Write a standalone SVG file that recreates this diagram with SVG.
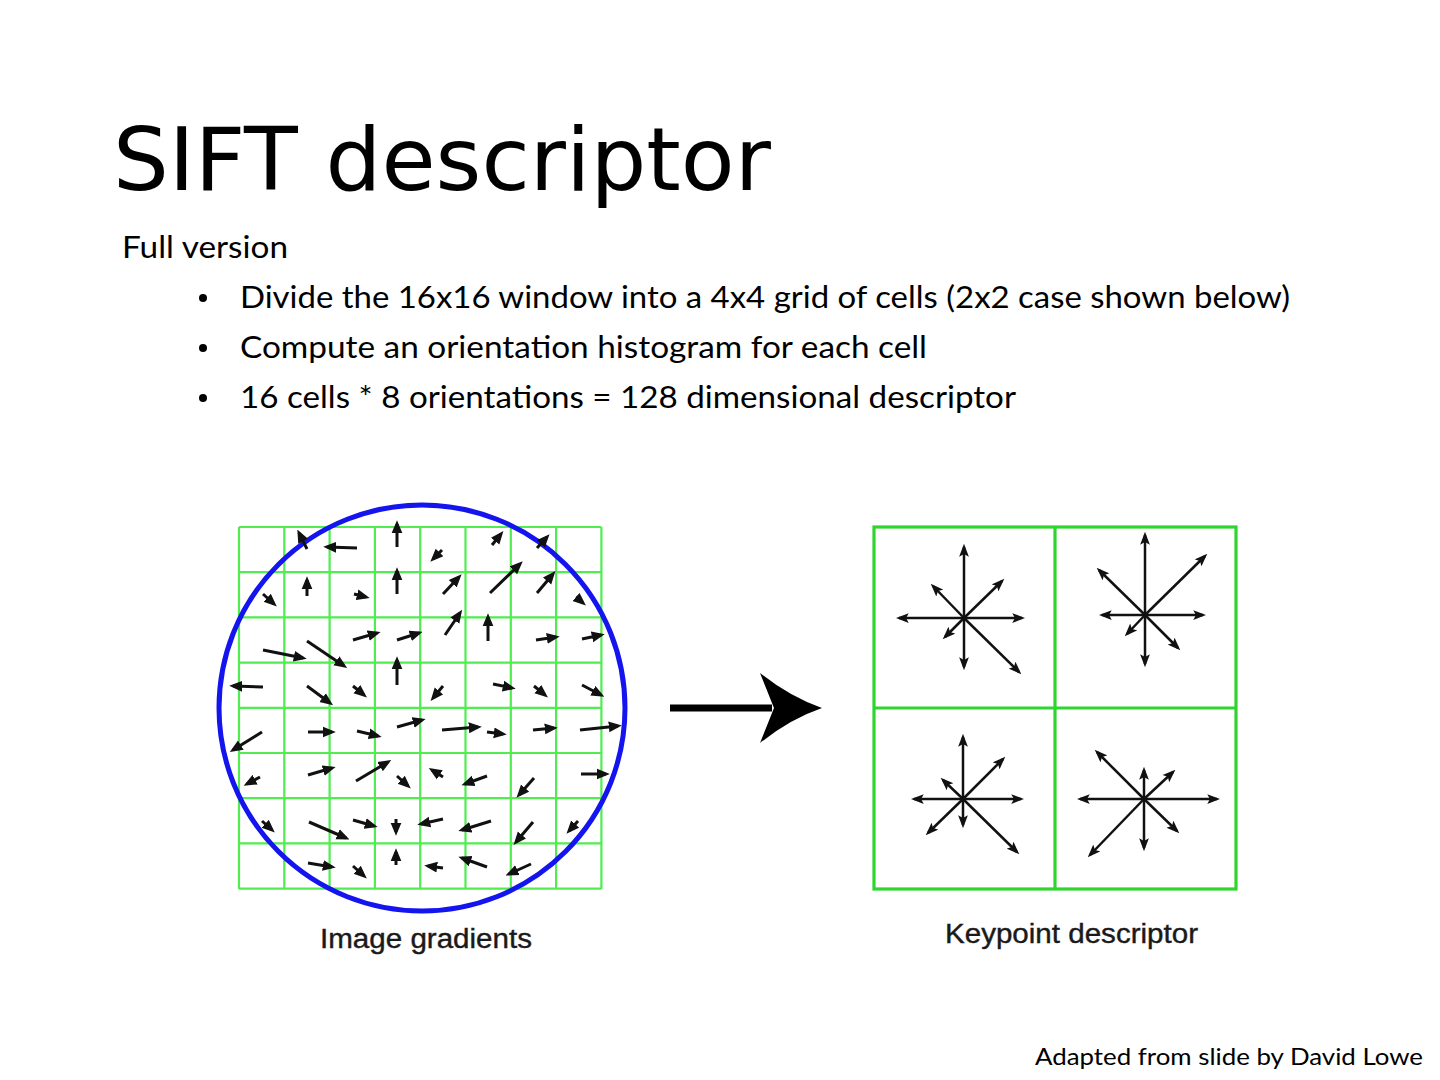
<svg xmlns="http://www.w3.org/2000/svg" width="1440" height="1080" viewBox="0 0 1440 1080">
<style>
.title{font-family:"DejaVu Sans",sans-serif;font-size:88px;fill:#000}
.body{font-family:Lato,"Liberation Sans",sans-serif;font-size:31px;fill:#000}
.foot{font-family:Lato,"Liberation Sans",sans-serif;font-size:23px;fill:#000}
.lab{font-family:"Liberation Sans",Arial,sans-serif;font-size:27px;fill:#1a1a1a;stroke:#1a1a1a;stroke-width:0.4}
.g1{stroke:#50ec50;stroke-width:2.2;fill:none}
.g2{stroke:#2fd42f;stroke-width:3.2;fill:none}
.ga{stroke:#111;stroke-width:3;fill:none;marker-end:url(#ha)}
.sa{stroke:#111;stroke-width:2.5;fill:none;marker-end:url(#hs)}
</style>
<defs>
<marker id="ha" markerUnits="userSpaceOnUse" markerWidth="13" markerHeight="12" viewBox="0 -5.5 12 11" refX="8.5" refY="0" orient="auto"><path d="M0,-5 L12,0 L0,5 Z" fill="#111"/></marker>
<marker id="hs" markerUnits="userSpaceOnUse" markerWidth="13" markerHeight="11" viewBox="0 -5 12 10" refX="9" refY="0" orient="auto"><path d="M0,-4.5 L12,0 L0,4.5 L2.5,0 Z" fill="#111"/></marker>
</defs>
<rect width="1440" height="1080" fill="#fff"/>
<g id="title"><text class="title" x="113" y="190">SIFT descriptor</text></g>
<g id="bullets">
<text class="body" x="122" y="258" textLength="166" lengthAdjust="spacingAndGlyphs">Full version</text>
<circle cx="203" cy="298" r="4" fill="#000"/>
<circle cx="203" cy="348" r="4" fill="#000"/>
<circle cx="203" cy="398" r="4" fill="#000"/>
<text class="body" x="240" y="308" textLength="1050" lengthAdjust="spacingAndGlyphs">Divide the 16x16 window into a 4x4 grid of cells (2x2 case shown below)</text>
<text class="body" x="240" y="358" textLength="687" lengthAdjust="spacingAndGlyphs">Compute an orientation histogram for each cell</text>
<text class="body" x="240" y="408" textLength="776" lengthAdjust="spacingAndGlyphs">16 cells * 8 orientations = 128 dimensional descriptor</text>
</g>
<g id="image-gradients">
<g class="g1">
<path d="M239,527V889M284.3,527V889M329.6,527V889M374.9,527V889M420.2,527V889M465.5,527V889M510.8,527V889M556.1,527V889M601.4,527V889"/>
<path d="M239,527H601.4M239,572.2H601.4M239,617.4H601.4M239,662.6H601.4M239,707.8H601.4M239,753H601.4M239,798.2H601.4M239,843.4H601.4M239,888.6H601.4"/>
</g>
<circle cx="422" cy="708" r="203" fill="none" stroke="#1414ee" stroke-width="5"/>
<g class="ga">
<path d="M307,549L299,533"/><path d="M357,548L327,547"/><path d="M397,547L397,524"/><path d="M442,550L433,559"/><path d="M492,545L501,534"/><path d="M537,548L547,537"/>
<path d="M263,594L274,604"/><path d="M307,596L307,580"/><path d="M354,594L366,597"/><path d="M397,594L397,571"/><path d="M443,594L459,577"/><path d="M490,593L520,564"/><path d="M537,593L553,574"/><path d="M576,597L583,603"/>
<path d="M263,650L303,658"/><path d="M307,641L344,666"/><path d="M353,640L377,633"/><path d="M397,640L419,633"/><path d="M445,635L460,613"/><path d="M488,641L488,617"/><path d="M536,640L556,637"/><path d="M582,639L601,635"/>
<path d="M263,687L233,686"/><path d="M307,686L330,703"/><path d="M353,686L364,695"/><path d="M397,685L397,660"/><path d="M443,686L433,698"/><path d="M493,684L512,688"/><path d="M534,686L545,695"/><path d="M582,685L601,695"/>
<path d="M262,732L233,750"/><path d="M308,732L332,732"/><path d="M357,731L378,736"/><path d="M397,727L422,720"/><path d="M442,730L478,727"/><path d="M487,732L503,734"/><path d="M533,730L554,728"/><path d="M580,730L618,726"/>
<path d="M260,777L247,784"/><path d="M308,775L332,768"/><path d="M356,781L388,762"/><path d="M397,776L408,786"/><path d="M443,777L432,770"/><path d="M487,776L465,784"/><path d="M534,778L519,795"/><path d="M581,774L606,774"/>
<path d="M262,821L272,830"/><path d="M309,822L346,838"/><path d="M353,820L374,826"/><path d="M396,819L396,832"/><path d="M443,819L421,824"/><path d="M491,821L462,830"/><path d="M533,822L516,842"/><path d="M578,821L569,831"/>
<path d="M308,863L332,867"/><path d="M353,866L364,876"/><path d="M396,865L396,852"/><path d="M443,868L428,866"/><path d="M487,867L462,858"/><path d="M531,864L509,874"/>
</g>
<text class="lab" x="320" y="948" textLength="212" lengthAdjust="spacingAndGlyphs">Image gradients</text>
</g>
<g id="keypoint-descriptor">
<rect class="g2" x="874" y="527" width="362" height="362"/>
<path class="g2" d="M1055,527V889M874,708H1236"/>
<g class="sa">
<path d="M964,618L964,547"/><path d="M964,618L964,667"/><path d="M964,618L899,618"/><path d="M964,618L1022,618"/><path d="M964,618L1002,581"/><path d="M964,618L933,586"/><path d="M964,618L945,637"/><path d="M964,618L1019,672"/>
<path d="M1145,615L1145,535"/><path d="M1145,615L1145,664"/><path d="M1145,615L1102,615"/><path d="M1145,615L1203,615"/><path d="M1145,615L1205,556"/><path d="M1145,615L1099,570"/><path d="M1145,615L1127,634"/><path d="M1145,615L1178,648"/>
<path d="M963,799L963,737"/><path d="M963,799L963,825"/><path d="M963,799L914,799"/><path d="M963,799L1021,799"/><path d="M963,799L1003,759"/><path d="M963,799L943,780"/><path d="M963,799L928,833"/><path d="M963,799L1017,852"/>
<path d="M1144,799L1144,770"/><path d="M1144,799L1144,848"/><path d="M1144,799L1080,799"/><path d="M1144,799L1217,799"/><path d="M1144,799L1173,772"/><path d="M1144,799L1097,752"/><path d="M1144,799L1090,855"/><path d="M1144,799L1177,831"/>
</g>
<text class="lab" x="945" y="943" textLength="253" lengthAdjust="spacingAndGlyphs">Keypoint descriptor</text>
</g>
<g id="connectors">
<path d="M670,708H772" stroke="#000" stroke-width="7" fill="none"/>
<path d="M822,708 Q790,697 760,673 L774,708 L760,743 Q790,719 822,708 Z" fill="#000"/>
</g>
<g id="credit"><text class="foot" x="1035" y="1065" textLength="388" lengthAdjust="spacingAndGlyphs">Adapted from slide by David Lowe</text></g>
</svg>
